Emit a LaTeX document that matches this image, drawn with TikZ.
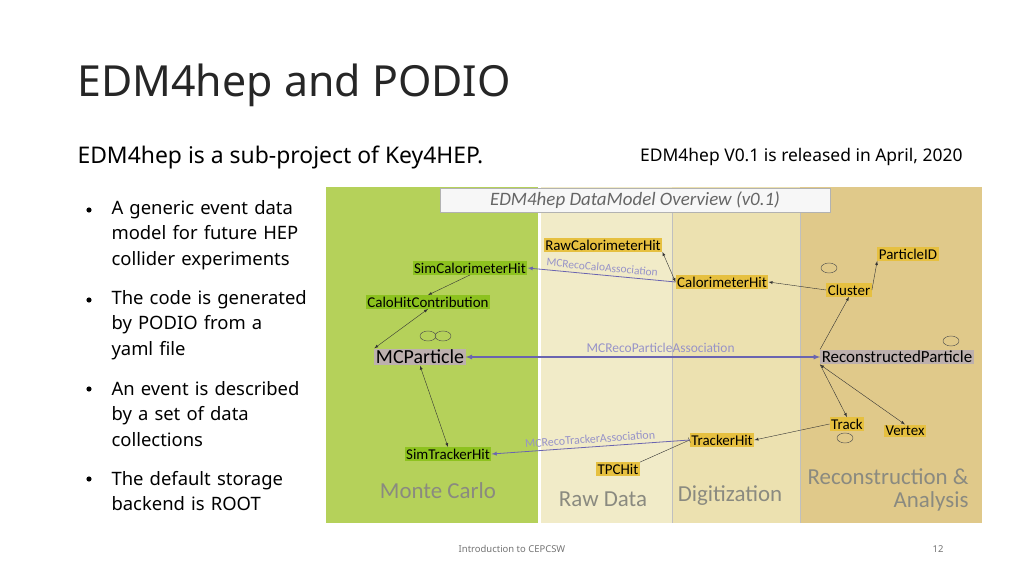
\documentclass[tikz,border=0pt]{standalone}
\usepackage{fontspec}
\setmainfont{Noto Sans}
\newfontfamily\dmfont{Carlito}
\usetikzlibrary{calc}
\definecolor{mcgreen}{HTML}{B5D15A}
\definecolor{rawpale}{HTML}{F1EBC8}
\definecolor{digipale}{HTML}{ECE1B0}
\definecolor{recotan}{HTML}{E0C98A}
\definecolor{nodegreen}{HTML}{8DC21F}
\definecolor{nodegold}{HTML}{E6C040}
\definecolor{nodegrey}{HTML}{BDB0AE}
\definecolor{assoc}{HTML}{6A64B0}
\definecolor{phase}{HTML}{8A8A80}
\tikzset{
  dm/.style={font=\dmfont\fontsize{15}{15}\selectfont, inner sep=1.5pt},
  mcnode/.style={dm, fill=nodegreen},
  recnode/.style={dm, fill=nodegold},
  keynode/.style={dm, fill=nodegrey, font=\dmfont\fontsize{20}{20}\selectfont},
  rel/.style={->, >=latex, thin, black!80},
  link/.style={assoc, thick},
  phaselbl/.style={text=phase, font=\dmfont\fontsize{23}{23}\selectfont},
  bullet/.style={anchor=west, font=\fontsize{18.5}{25.5}\selectfont, align=left, text width=220bp}
}
\begin{document}
\begin{tikzpicture}[x=1bp,y=-1bp]
  \useasboundingbox (0,0) rectangle (1024,576);
  % header
  \node (title) [anchor=west, font=\fontsize{43}{43}\selectfont, text=black!85] at (74,85) {EDM4hep and PODIO};
  \node (sub) [anchor=west, font=\fontsize{23}{23}\selectfont] at (74,157) {EDM4hep is a sub-project of Key4HEP.};
  \node (rel) [anchor=east, font=\fontsize{17.5}{17.5}\selectfont] at (966,157) {EDM4hep V0.1 is released in April, 2020};

  % bullets
  \node (b1) [bullet] at (108,235) {A generic event data\\model for future HEP\\collider experiments};
  \node (b2) [bullet] at (108,325) {The code is generated\\by PODIO from a\\yaml file};
  \node (b3) [bullet] at (108,414) {An event is described\\by a set of data\\collections};
  \node (b4) [bullet] at (108,491) {The default storage\\backend is ROOT};
  \foreach \y in {210,300,389,479}
    \fill (89,\y) circle [radius=2.6bp];

  % panels
  \fill [mcgreen] (326,187) rectangle (538,523);
  \fill [rawpale] (541,187) rectangle (672,523);
  \fill [digipale] (672,187) rectangle (800,523);
  \fill [recotan] (800,187) rectangle (982,523);
  \draw [black!25] (672,210) -- (672,523) (800,210) -- (800,523);
  \node (hdr) [draw=black!30, fill=black!3, minimum width=390bp, minimum height=24bp,
    font=\dmfont\itshape\fontsize{19}{19}\selectfont, text=black!60] at (635,200) {EDM4hep DataModel Overview (v0.1)};

  % nodes
  \node (simcalo) [mcnode] at (470,268) {SimCalorimeterHit};
  \node (calocontrib) [mcnode] at (428,302) {CaloHitContribution};
  \node (mcp) [keynode] at (420,357) {MCParticle};
  \node (simtrk) [mcnode] at (448,454) {SimTrackerHit};
  \node (rawcalo) [recnode] at (603,245) {RawCalorimeterHit};
  \node (calohit) [recnode] at (722,282) {CalorimeterHit};
  \node (pid) [recnode] at (908,254) {ParticleID};
  \node (cluster) [recnode] at (849,290) {Cluster};
  \node (reco) [dm, fill=nodegrey, font=\dmfont\fontsize{17}{17}\selectfont] at (897,357) {ReconstructedParticle};
  \node (track) [recnode] at (847,424) {Track};
  \node (vertex) [recnode] at (905,431) {Vertex};
  \node (trkhit) [recnode] at (722,440) {TrackerHit};
  \node (tpc) [recnode] at (618,469) {TPCHit};

  % relations
  \draw [rel] (simcalo.south) -- (calocontrib.north);
  \draw [rel, <->] (calocontrib.south) -- (mcp.north west);
  \draw [rel, <->] (mcp.south) -- (simtrk.north);
  \draw [rel, <->] (rawcalo.south east) -- (calohit.west);
  \draw [rel] (cluster.west) -- (calohit.east);
  \draw [rel] (cluster.east) -- (pid.south west);
  \draw [rel] (reco.north west) -- (cluster.south);
  \draw [rel] (reco.south west) -- (track.north);
  \draw [rel, <->] (reco.south west) -- (vertex.north);
  \draw [rel] (track.west) -- (trkhit.east);
  \draw [rel, -|] (tpc.north east) -- (trkhit.west);
  \foreach \n/\dx/\dy in {mcp/8/-21, mcp/23/-21, reco/54/-16, cluster/-20/-22, track/-2/14}
    \draw [black!70] ($(\n) + (\dx,\dy)$) circle [x radius=8bp, y radius=5bp];

  % associations
  \draw [link, ->, >=latex] (calohit.west) -- (simcalo.east)
    node [midway, above, sloped, font=\dmfont\fontsize{11.5}{11.5}\selectfont, text=assoc!70] {MCRecoCaloAssociation};
  \draw [link, <->, >={latex[scale=1.8]}, very thick] (mcp.east) -- (reco.west)
    node [pos=0.55, above, font=\dmfont\fontsize{13.5}{13.5}\selectfont, text=assoc!70] {MCRecoParticleAssociation};
  \draw [link, ->, >=latex] (trkhit.west) -- (simtrk.east)
    node [midway, above, sloped, font=\dmfont\fontsize{12}{12}\selectfont, text=assoc!70] {MCRecoTrackerAssociation};

  % phase labels
  \node (lmc) [phaselbl] at (438,491) {Monte Carlo};
  \node (lraw) [phaselbl] at (603,499) {Raw Data};
  \node (ldigi) [phaselbl] at (730,496) {Digitization};
  \node (lreco) [phaselbl, align=right, anchor=east] at (972,490) {Reconstruction \&\\Analysis};

  % footer
  \node (foot) [font=\fontsize{9.5}{9.5}\selectfont, text=black!55] at (512,549) {Introduction to CEPCSW};
  \node (page) [font=\fontsize{9.5}{9.5}\selectfont, text=black!55] at (938,549) {12};
\end{tikzpicture}
\end{document}
